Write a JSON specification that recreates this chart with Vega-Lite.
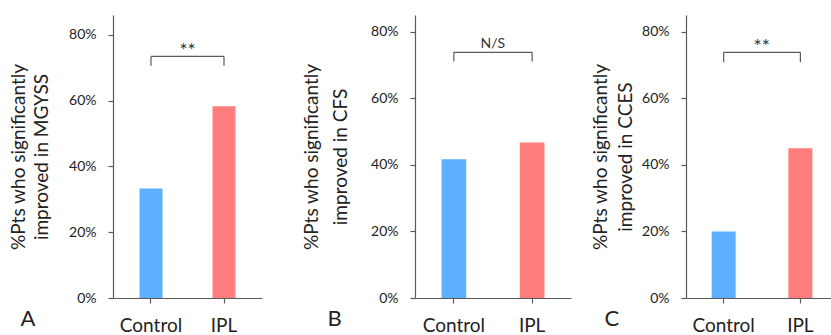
{
  "$schema": "https://vega.github.io/schema/vega-lite/v6.json",
  "padding": {"left": 9, "top": 15, "right": 0, "bottom": 0},
  "autosize": {"type": "pad"},
  "config": {
    "font": "Lato",
    "view": {"stroke": null},
    "axis": {"domainColor": "#5a5a5a", "tickColor": "#5a5a5a", "labelColor": "#222222", "titleColor": "#222222", "grid": false, "titleFontWeight": "normal", "domainWidth": 1.2, "tickWidth": 1.2, "tickSize": 5},
    "axisY": {"labelFontSize": 14, "labelPadding": 12, "titleFontSize": 19},
    "axisX": {"labelFontSize": 19, "labelAngle": 0, "labelPadding": 13, "titleFontSize": 22, "titleAlign": "left", "titleBaseline": "alphabetic", "titleY": 27}
  },
  "datasets": {
    "bars": [
      {"panel": "A", "group": "Control", "value": 0.333},
      {"panel": "A", "group": "IPL", "value": 0.583},
      {"panel": "B", "group": "Control", "value": 0.417},
      {"panel": "B", "group": "IPL", "value": 0.467},
      {"panel": "C", "group": "Control", "value": 0.2},
      {"panel": "C", "group": "IPL", "value": 0.45}
    ],
    "brackets": [
      {"panel": "A", "from": "Control", "to": "IPL", "top": 0.734, "bottom": 0.706, "label": "**"},
      {"panel": "B", "from": "Control", "to": "IPL", "top": 0.738, "bottom": 0.71, "label": "N/S"},
      {"panel": "C", "from": "Control", "to": "IPL", "top": 0.738, "bottom": 0.708, "label": "**"}
    ]
  },
  "spacing": 20,
  "hconcat": [
    {
      "bounds": "flush",
      "spacing": 153,
      "hconcat": [
        {
          "width": 149,
          "height": 283,
          "layer": [
            {
              "data": {"name": "bars"},
              "transform": [{"filter": "datum.panel === 'A'"}],
              "mark": {"type": "bar"},
              "encoding": {
                "x": {"field": "group", "type": "nominal", "sort": ["Control", "IPL"], "scale": {"paddingInner": 0.685, "paddingOuter": 0.363}, "axis": {"title": "A", "titleX": -93}},
                "y": {"field": "value", "type": "quantitative", "scale": {"domain": [0, 0.86]}, "axis": {"title": ["%Pts who significantly", "improved in MGYSS"], "titleLineHeight": 23, "titlePadding": 17, "values": [0, 0.2, 0.4, 0.6, 0.8], "format": ".0%"}},
                "color": {"field": "group", "type": "nominal", "scale": {"domain": ["Control", "IPL"], "range": ["#5cb0ff", "#ff7d7d"]}, "legend": null}
              }
            },
            {
              "data": {"name": "brackets"},
              "transform": [{"filter": "datum.panel === 'A'"}],
              "mark": {"type": "rule", "color": "#5a5a5a", "strokeWidth": 1.2},
              "encoding": {
                "x": {"field": "from", "type": "nominal"},
                "x2": {"field": "to"},
                "y": {"field": "top", "type": "quantitative", "scale": {"domain": [0, 0.86]}}
              }
            },
            {
              "data": {"name": "brackets"},
              "transform": [{"filter": "datum.panel === 'A'"}],
              "mark": {"type": "rule", "color": "#5a5a5a", "strokeWidth": 1.2},
              "encoding": {
                "x": {"field": "from", "type": "nominal"},
                "y": {"field": "top", "type": "quantitative", "scale": {"domain": [0, 0.86]}},
                "y2": {"field": "bottom"}
              }
            },
            {
              "data": {"name": "brackets"},
              "transform": [{"filter": "datum.panel === 'A'"}],
              "mark": {"type": "rule", "color": "#5a5a5a", "strokeWidth": 1.2},
              "encoding": {
                "x": {"field": "to", "type": "nominal"},
                "y": {"field": "top", "type": "quantitative", "scale": {"domain": [0, 0.86]}},
                "y2": {"field": "bottom"}
              }
            },
            {
              "data": {"name": "brackets"},
              "transform": [{"filter": "datum.panel === 'A'"}],
              "mark": {"type": "text", "fontSize": 19, "color": "#333333", "align": "center", "baseline": "alphabetic", "dx": 36.5, "dy": 1},
              "encoding": {
                "x": {"field": "from", "type": "nominal"},
                "y": {"field": "top", "type": "quantitative", "scale": {"domain": [0, 0.86]}},
                "text": {"field": "label"}
              }
            }
          ]
        },
        {
          "width": 156,
          "height": 283,
          "layer": [
            {
              "data": {"name": "bars"},
              "transform": [{"filter": "datum.panel === 'B'"}],
              "mark": {"type": "bar"},
              "encoding": {
                "x": {"field": "group", "type": "nominal", "sort": ["Control", "IPL"], "scale": {"paddingInner": 0.685, "paddingOuter": 0.339}, "axis": {"title": "B", "titleX": -88}},
                "y": {"field": "value", "type": "quantitative", "scale": {"domain": [0, 0.85]}, "axis": {"title": ["%Pts who significantly", "improved in CFS"], "titleLineHeight": 29, "titlePadding": 20, "values": [0, 0.2, 0.4, 0.6, 0.8], "format": ".0%"}},
                "color": {"field": "group", "type": "nominal", "scale": {"domain": ["Control", "IPL"], "range": ["#5cb0ff", "#ff7d7d"]}, "legend": null}
              }
            },
            {
              "data": {"name": "brackets"},
              "transform": [{"filter": "datum.panel === 'B'"}],
              "mark": {"type": "rule", "color": "#5a5a5a", "strokeWidth": 1.2},
              "encoding": {
                "x": {"field": "from", "type": "nominal"},
                "x2": {"field": "to"},
                "y": {"field": "top", "type": "quantitative", "scale": {"domain": [0, 0.85]}}
              }
            },
            {
              "data": {"name": "brackets"},
              "transform": [{"filter": "datum.panel === 'B'"}],
              "mark": {"type": "rule", "color": "#5a5a5a", "strokeWidth": 1.2},
              "encoding": {
                "x": {"field": "from", "type": "nominal"},
                "y": {"field": "top", "type": "quantitative", "scale": {"domain": [0, 0.85]}},
                "y2": {"field": "bottom"}
              }
            },
            {
              "data": {"name": "brackets"},
              "transform": [{"filter": "datum.panel === 'B'"}],
              "mark": {"type": "rule", "color": "#5a5a5a", "strokeWidth": 1.2},
              "encoding": {
                "x": {"field": "to", "type": "nominal"},
                "y": {"field": "top", "type": "quantitative", "scale": {"domain": [0, 0.85]}},
                "y2": {"field": "bottom"}
              }
            },
            {
              "data": {"name": "brackets"},
              "transform": [{"filter": "datum.panel === 'B'"}],
              "mark": {"type": "text", "fontSize": 14, "color": "#333333", "align": "center", "baseline": "alphabetic", "dx": 39, "dy": -4},
              "encoding": {
                "x": {"field": "from", "type": "nominal"},
                "y": {"field": "top", "type": "quantitative", "scale": {"domain": [0, 0.85]}},
                "text": {"field": "label"}
              }
            }
          ]
        }
      ]
    },
    {
      "width": 146,
      "height": 283,
      "layer": [
        {
          "data": {"name": "bars"},
          "transform": [{"filter": "datum.panel === 'C'"}],
          "mark": {"type": "bar"},
          "encoding": {
            "x": {"field": "group", "type": "nominal", "sort": ["Control", "IPL"], "scale": {"paddingInner": 0.687, "paddingOuter": 0.295, "align": 0.567}, "axis": {"title": "C", "titleX": -82}},
            "y": {"field": "value", "type": "quantitative", "scale": {"domain": [0, 0.85]}, "axis": {"title": ["%Pts who significantly", "improved in CCES"], "titleLineHeight": 25, "titlePadding": 6, "values": [0, 0.2, 0.4, 0.6, 0.8], "format": ".0%"}},
            "color": {"field": "group", "type": "nominal", "scale": {"domain": ["Control", "IPL"], "range": ["#5cb0ff", "#ff7d7d"]}, "legend": null}
          }
        },
        {
          "data": {"name": "brackets"},
          "transform": [{"filter": "datum.panel === 'C'"}],
          "mark": {"type": "rule", "color": "#5a5a5a", "strokeWidth": 1.2},
          "encoding": {
            "x": {"field": "from", "type": "nominal"},
            "x2": {"field": "to"},
            "y": {"field": "top", "type": "quantitative", "scale": {"domain": [0, 0.85]}}
          }
        },
        {
          "data": {"name": "brackets"},
          "transform": [{"filter": "datum.panel === 'C'"}],
          "mark": {"type": "rule", "color": "#5a5a5a", "strokeWidth": 1.2},
          "encoding": {
            "x": {"field": "from", "type": "nominal"},
            "y": {"field": "top", "type": "quantitative", "scale": {"domain": [0, 0.85]}},
            "y2": {"field": "bottom"}
          }
        },
        {
          "data": {"name": "brackets"},
          "transform": [{"filter": "datum.panel === 'C'"}],
          "mark": {"type": "rule", "color": "#5a5a5a", "strokeWidth": 1.2},
          "encoding": {
            "x": {"field": "to", "type": "nominal"},
            "y": {"field": "top", "type": "quantitative", "scale": {"domain": [0, 0.85]}},
            "y2": {"field": "bottom"}
          }
        },
        {
          "data": {"name": "brackets"},
          "transform": [{"filter": "datum.panel === 'C'"}],
          "mark": {"type": "text", "fontSize": 19, "color": "#333333", "align": "center", "baseline": "alphabetic", "dx": 38, "dy": 1},
          "encoding": {
            "x": {"field": "from", "type": "nominal"},
            "y": {"field": "top", "type": "quantitative", "scale": {"domain": [0, 0.85]}},
            "text": {"field": "label"}
          }
        }
      ]
    }
  ]
}
